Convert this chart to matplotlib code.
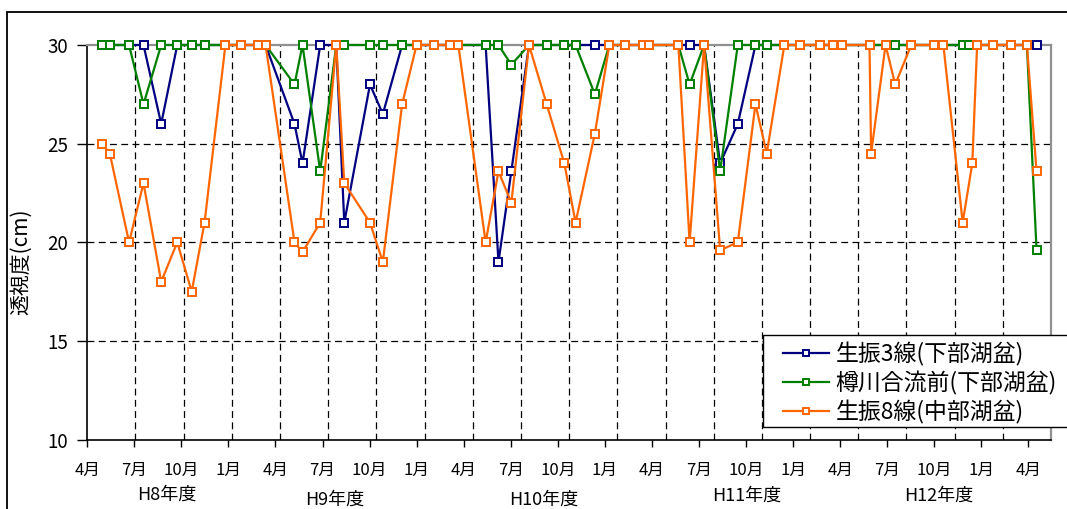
import numpy as np
import matplotlib
matplotlib.use("Agg")
import matplotlib.pyplot as plt
from matplotlib.patches import Rectangle

plt.rcParams['font.family'] = ['Noto Sans CJK JP', 'DejaVu Sans']

nan = np.nan
# sampling dates: months elapsed since 1 April 1996 (start of H8)
months = [0.9, 1.4, 2.6, 3.5, 4.6, 5.6, 6.5, 7.3, 8.6, 9.6, 10.6, 11.1,
          12.9, 13.4, 14.5, 15.5, 16.0, 17.6, 18.4, 19.6, 20.5, 21.6, 22.6, 23.1,
          24.8, 25.6, 26.4, 27.5, 28.6, 29.7, 30.4, 31.6, 32.5, 33.5, 34.6, 35.0,
          36.8, 37.5, 38.4, 39.4, 40.5, 41.6, 42.3, 43.4, 44.4, 45.6, 46.4, 47.0,
          48.7, 48.8, 49.7, 50.3, 51.3, 52.7, 53.3, 54.5, 54.9, 55.1, 55.4, 56.4,
          57.5, 58.5, 59.1]

seifuri3 = [30, 30, 30, 30, 26, 30, 30, 30, 30, 30, 30, 30,
            26, 24, 30, 30, 21, 28, 26.5, 30, 30, 30, 30, 30,
            30, 19, 23.6, 30, 30, 30, 30, 30, 30, 30, 30, 30,
            30, 30, 30, 24, 26, 30, 30, 30, 30, 30, 30, 30,
            30, nan, 30, 30, 30, 30, 30, 30, 30, nan, 30, 30, 30, 30, 30]

tarukawa = [30, 30, 30, 27, 30, 30, 30, 30, 30, 30, 30, 30,
            28, 30, 23.6, 30, 30, 30, 30, 30, 30, 30, 30, 30,
            30, 30, 29, 30, 30, 30, 30, 27.5, 30, 30, 30, 30,
            30, 28, 30, 23.6, 30, 30, 30, 30, 30, 30, 30, 30,
            30, nan, 30, 30, 30, 30, 30, 30, 30, nan, 30, 30, 30, 30, 19.6]

seifuri8 = [25, 24.5, 20, 23, 18, 20, 17.5, 21, 30, 30, 30, 30,
            20, 19.5, 21, 30, 23, 21, 19, 27, 30, 30, 30, 30,
            20, 23.6, 22, 30, 27, 24, 21, 25.5, 30, 30, 30, 30,
            30, 20, 30, 19.6, 20, 27, 24.5, 30, 30, 30, 30, 30,
            30, 24.5, 30, 28, 30, 30, 30, 21, nan, 24, 30, 30, 30, 30, 23.6]

series_names = ['生振3線(下部湖盆)', '樽川合流前(下部湖盆)', '生振8線(中部湖盆)']
series_colors = ['#000080', '#008000', '#FF6600']

month_labels = ['4月', '7月', '10月', '1月'] * 5 + ['4月']
year_labels = ['H8年度', 'H9年度', 'H10年度', 'H11年度', 'H12年度']
year_label_px = [(167, 495), (335, 500), (544, 500), (747, 496), (939, 496)]
y_ticks = [10, 15, 20, 25, 30]

W, H = 1067, 509
fig = plt.figure(figsize=(W / 100, H / 100), dpi=100)
ax = fig.add_axes([87.3 / W, 1 - 439.6 / H, (1051 - 87.3) / W, (439.6 - 45) / H])
ax.set_xlim(0, 60)
ax.set_ylim(10, 30)

# grid lines
for q in range(3, 60, 3):
    ax.axvline(q, color='black', lw=0.9, ls=(0, (5.5, 3.5)), zorder=1)
for yv in y_ticks[1:-1]:
    ax.axhline(yv, color='black', lw=0.9, ls=(0, (5.5, 3.5)), zorder=1)

x = np.array(months)
for vals, name, col in zip([seifuri3, tarukawa, seifuri8], series_names, series_colors):
    v = np.array(vals, dtype=float)
    m = ~np.isnan(v)
    ax.plot(x[m], v[m], color=col, lw=1.6, marker='s', ms=6, mfc='white',
            mec=col, mew=1.4, label=name, clip_on=False, zorder=3)

# axes styling
for s in ['top', 'right']:
    ax.spines[s].set_color('#909090')
    ax.spines[s].set_linewidth(1.6)
for s in ['left', 'bottom']:
    ax.spines[s].set_color('black')
    ax.spines[s].set_linewidth(1.2)

ax.set_yticks(y_ticks)
ax.set_yticklabels([str(t) for t in y_ticks])
ax.tick_params(axis='y', direction='out', length=7, width=1, pad=7, labelsize=13.5)

tick_step = (1028.3 - 87.3) / 20 / 16.062
ax.set_xticks([i * tick_step for i in range(21)])
ax.set_xticklabels(month_labels)
ax.tick_params(axis='x', direction='out', length=5, width=1, pad=11, labelsize=12)

ax.set_ylabel('透視度(cm)', fontsize=15)
ax.yaxis.set_label_coords(-0.057, 0.45)

for txt, (px, py) in zip(year_labels, year_label_px):
    fig.text(px / W, 1 - py / H, txt, ha='center', va='center', fontsize=13)

# legend box (drawn separately) and entries
fig.patches.append(Rectangle((763 / W, 1 - 427 / H), (1070 - 763) / W, (427 - 335) / H,
                             transform=fig.transFigure, fc='white', ec='black', lw=1.0,
                             zorder=5))
leg = fig.legend(loc='upper left', bbox_to_anchor=(783 / W, 1 - 342 / H),
                 borderaxespad=0, fontsize=16.5, frameon=False,
                 handlelength=2.0, handletextpad=0.3, labelspacing=0.22,
                 borderpad=0.0, markerscale=0.75)
leg.set_zorder(6)

fig.patches.append(Rectangle((7 / W, -0.5), 2, 1 - 12 / H + 0.5, transform=fig.transFigure,
                             fill=False, ec='black', lw=1.3))

fig.savefig('out.png', dpi=100)
